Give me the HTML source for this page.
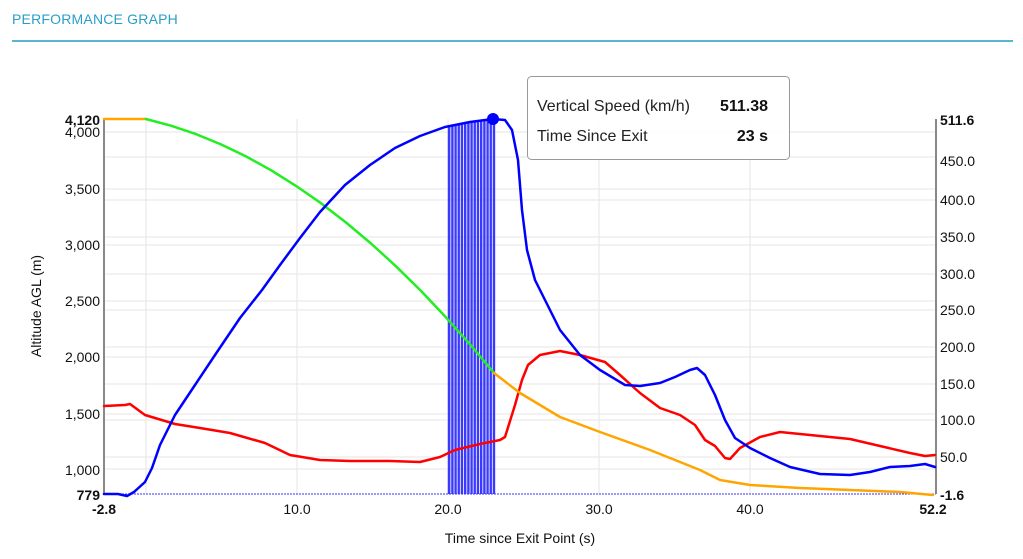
<!DOCTYPE html>
<html><head><meta charset="utf-8"><style>
body{margin:0;background:#fff;width:1023px;height:559px;overflow:hidden;font-family:"Liberation Sans",sans-serif}
.t{position:absolute;left:12px;top:11px;font-size:14px;color:#2a9ec9;letter-spacing:0.2px}
.ln{position:absolute;left:12px;top:40px;width:1001px;height:2px;background:#5ab4d4}
svg{position:absolute;left:0;top:0}
polyline{stroke-linejoin:round;stroke-linecap:round}
</style></head><body>
<div class="t">PERFORMANCE GRAPH</div><div class="ln"></div>
<svg width="1023" height="559" font-family="Liberation Sans, sans-serif">
<defs><pattern id="p" width="3.2" height="10" patternUnits="userSpaceOnUse"><rect width="2.4" height="10" fill="#3a3aff"/></pattern></defs>
<g stroke="#e6e6e6" stroke-width="1">
<line x1="146" y1="119" x2="146" y2="494"/><line x1="297" y1="119" x2="297" y2="494"/><line x1="448" y1="119" x2="448" y2="494"/><line x1="599" y1="119" x2="599" y2="494"/><line x1="750" y1="119" x2="750" y2="494"/>
<line x1="104" y1="132" x2="936" y2="132"/><line x1="104" y1="189" x2="936" y2="189"/><line x1="104" y1="245" x2="936" y2="245"/><line x1="104" y1="301" x2="936" y2="301"/><line x1="104" y1="357" x2="936" y2="357"/><line x1="104" y1="414" x2="936" y2="414"/><line x1="104" y1="469" x2="936" y2="469"/>
<line x1="104" y1="157" x2="936" y2="157"/><line x1="104" y1="200" x2="936" y2="200"/><line x1="104" y1="237" x2="936" y2="237"/><line x1="104" y1="274" x2="936" y2="274"/><line x1="104" y1="310" x2="936" y2="310"/><line x1="104" y1="347" x2="936" y2="347"/><line x1="104" y1="384" x2="936" y2="384"/><line x1="104" y1="420" x2="936" y2="420"/><line x1="104" y1="457" x2="936" y2="457"/>
</g>
<polygon points="447,126 470,122 496,119 496,494 447,494" fill="url(#p)"/>
<line x1="104" y1="494" x2="936" y2="494" stroke="#33f" stroke-width="1" stroke-dasharray="2,1"/>
<line x1="104" y1="119" x2="104" y2="494" stroke="#888" stroke-width="2"/>
<line x1="936" y1="119" x2="936" y2="494" stroke="#888" stroke-width="2"/>
<polyline fill="none" stroke="#f00" stroke-width="2.5" points="104,406 125,405 130,404 145,415 175,424 200,428 230,433 265,443 290,455 320,460 350,461 390,461 420,462 440,457 455,450 480,444 500,440 505,437 515,405 522,380 528,365 540,355 560,351 580,355 605,362 620,375 640,393 660,408 680,415 695,425 705,440 715,446 725,458 730,459 740,448 760,437 780,432 800,434 820,436 850,439 880,446 910,453 925,456 935,455"/>
<polyline fill="none" stroke="#ffa500" stroke-width="2.5" points="104,119 146,119"/>
<polyline fill="none" stroke="#2e2" stroke-width="2.5" points="146,119 171,125.7 196,134.1 221,144.4 246,156.4 271,170.2 296,185.9 321,203.2 346,222.5 371,243.5 396,266.3 421,290.9 446,317.4 471,345.5 494,373"/>
<polyline fill="none" stroke="#ffa500" stroke-width="2.5" points="494,373 520,393 560,417 600,432 650,450 700,470 720,480 750,485 800,488 850,490 900,492 933,495"/>
<polyline fill="none" stroke="#00f" stroke-width="2.5" points="104,494 118,494 127,496 134,492 145,482 152,468 160,445 175,415 195,385 215,355 240,318 262,290 280,265 300,238 320,212 345,185 370,165 395,148 420,136 445,127 470,122 493,119 505,120 512,130 518,160 522,210 527,250 535,280 545,300 560,330 580,355 600,370 625,385 640,386 660,383 675,377 690,370 697,368 705,375 715,395 725,420 735,438 750,448 770,458 790,467 820,474 850,475 870,472 890,467 910,466 925,464 935,467"/>
<circle cx="493" cy="119" r="6" fill="#00f"/>
<g font-size="14" fill="#111" text-anchor="end">
<text x="100" y="125" font-weight="bold">4,120</text><text x="100" y="137">4,000</text><text x="100" y="194">3,500</text><text x="100" y="250">3,000</text><text x="100" y="306">2,500</text><text x="100" y="362">2,000</text><text x="100" y="419">1,500</text><text x="100" y="475">1,000</text><text x="100" y="500" font-weight="bold">779</text>
</g>
<g font-size="14" fill="#111">
<text x="940" y="125" font-weight="bold">511.6</text><text x="940" y="166">450.0</text><text x="940" y="205">400.0</text><text x="940" y="242">350.0</text><text x="940" y="279">300.0</text><text x="940" y="315">250.0</text><text x="940" y="352">200.0</text><text x="940" y="389">150.0</text><text x="940" y="425">100.0</text><text x="940" y="462">50.0</text><text x="940" y="500" font-weight="bold">-1.6</text>
</g>
<g font-size="14" fill="#111" text-anchor="middle">
<text x="104" y="514" font-weight="bold">-2.8</text><text x="297" y="514">10.0</text><text x="448" y="514">20.0</text><text x="599" y="514">30.0</text><text x="750" y="514">40.0</text><text x="933" y="514" font-weight="bold">52.2</text>
<text x="520" y="543">Time since Exit Point (s)</text>
<text transform="translate(41,306) rotate(-90)">Altitude AGL (m)</text>
</g>
<rect x="527.5" y="76.5" width="262" height="83" rx="4" fill="#fff" fill-opacity="0.95" stroke="#999"/>
<text x="537" y="111" font-size="16" fill="#222">Vertical Speed (km/h)</text>
<text x="768" y="111" font-size="16" fill="#111" font-weight="bold" text-anchor="end">511.38</text>
<text x="537" y="141" font-size="16" fill="#222">Time Since Exit</text>
<text x="768" y="141" font-size="16" fill="#111" font-weight="bold" text-anchor="end">23 s</text>
</svg>
</body></html>
